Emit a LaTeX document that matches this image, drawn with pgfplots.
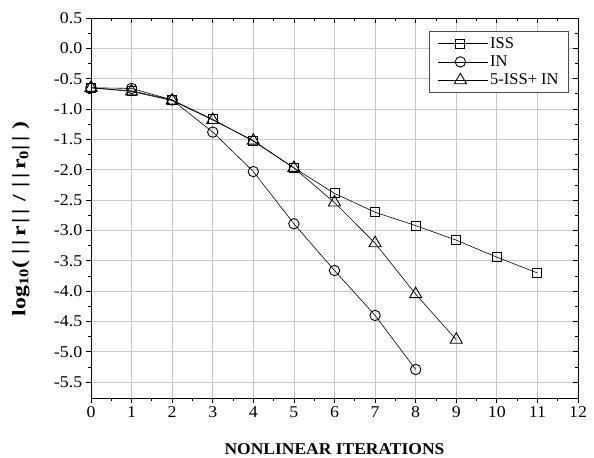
\documentclass[border=0pt]{standalone}
\usepackage{fontspec}
\setmainfont{Liberation Serif}
\usepackage{graphicx}
\usepackage{pgfplots}
\pgfplotsset{compat=1.18}
\begin{document}
\begin{tikzpicture}
\pgfplotsset{
  common/.style={
    scale only axis, width=487pt, height=380pt,
    xmin=0, xmax=12, ymin=-5.76, ymax=0.5,
    xtick={0,1,2,3,4,5,6,7,8,9,10,11,12},
    ytick={-5.5,-5,-4.5,-4,-3.5,-3,-2.5,-2,-1.5,-1,-0.5,0,0.5},
    minor x tick num=1, minor y tick num=1,
    major tick length=5pt, minor tick length=3pt,
    every tick/.style={black, line width=0.8pt},
  }
}
\begin{axis}[common, name=main,
  xtick pos=left, ytick pos=left, tick align=outside,
  axis line style={line width=0.9pt},
  grid=major, major grid style={black!22, line width=0.8pt},
  /pgf/number format/assume math mode=true,
  yticklabel style={/pgf/number format/.cd, fixed, fixed zerofill, precision=1},
  tick label style={font=\fontsize{16.5}{17}\selectfont, xscale=1.08},
  xlabel={\textbf{NONLINEAR ITERATIONS}},
  xlabel style={font=\fontsize{16.5}{17}\selectfont, xscale=1.06, at={(axis description cs:0.5,-0.134)}, anchor=center},
  ylabel={\scalebox{1.25}[1]{\textbf{log\textsubscript{10}(\hspace{5pt}|\hspace{3pt}|\hspace{3pt}r\hspace{2pt}|\hspace{3pt}|\hspace{6pt}/\hspace{6pt}|\hspace{3pt}|\hspace{3pt}r\textsubscript{0}|\hspace{3pt}|\hspace{5pt})}}},
  ylabel style={font=\fontsize{19}{20}\selectfont, at={(axis description cs:-0.144,0.471)}, anchor=center},
  legend style={at={(rel axis cs:0.9815,0.966)}, anchor=north east, draw=black!70, line width=0.8pt,
    font=\fontsize{16.5}{17}\selectfont, row sep=2pt, inner xsep=8pt, inner ysep=4pt},
  legend cell align=left,
  legend image code/.code={
    \path (0pt,0pt) -- (50pt,0pt);
    \draw[line width=0.6pt, mark=none] (0pt,0pt) -- (45pt,0pt);
    \draw[only marks] plot coordinates {(22.5pt,0pt)};
  },
]
\addplot[black, line width=0.6pt, mark=square, mark size=4.5pt, mark options={fill=white, line width=0.9pt}]
  coordinates {(0,-0.65) (1,-0.70) (2,-0.85) (3,-1.17) (4,-1.53) (5,-1.97) (6,-2.39) (7,-2.70) (8,-2.92) (9,-3.16) (10,-3.44) (11,-3.70)};
\addlegendentry{ISS}
\addplot[black, line width=0.6pt, mark=o, mark size=5.2pt, mark options={fill=white, line width=0.9pt}]
  coordinates {(0,-0.65) (1,-0.66) (2,-0.85) (3,-1.38) (4,-2.03) (5,-2.89) (6,-3.66) (7,-4.40) (8,-5.29)};
\addlegendentry{IN}
\addplot[black, line width=0.6pt, mark=triangle, mark size=7pt, mark options={fill=white, line width=0.9pt}]
  coordinates {(0,-0.65) (1,-0.71) (2,-0.86) (3,-1.18) (4,-1.52) (5,-1.97) (6,-2.54) (7,-3.21) (8,-4.05) (9,-4.80)};
\addlegendentry{5-ISS+ IN}
\end{axis}
\begin{axis}[common,
  xtick pos=right, ytick pos=right, tick align=inside,
  xticklabels={}, yticklabels={}, axis line style={line width=0.9pt},
]
\end{axis}
\path (main.south west) ++(-91pt,-59pt) coordinate (bbA);
\path (main.north east) ++(16pt,18pt) coordinate (bbB);
\path (bbA) rectangle (bbB);
\end{tikzpicture}
\end{document}
